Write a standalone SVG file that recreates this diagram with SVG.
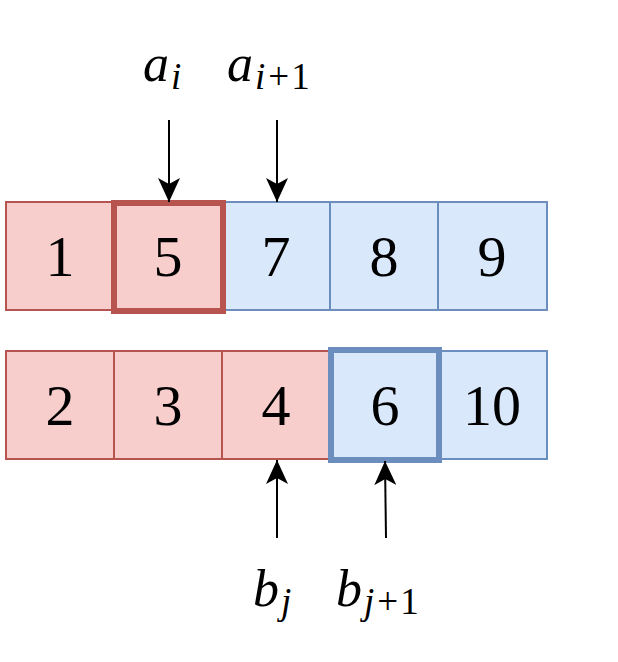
<svg xmlns="http://www.w3.org/2000/svg" width="618" height="662" viewBox="0 0 618 662">
<style>
.r{fill:#f8cecc;stroke:#b85450;stroke-width:2}
.b{fill:#dae8fc;stroke:#6c8ebf;stroke-width:2}
.rb{fill:#f8cecc;stroke:#b85450;stroke-width:6}
.bb{fill:#dae8fc;stroke:#6c8ebf;stroke-width:6}
.n{font-family:"Liberation Serif","DejaVu Serif",serif;font-size:58px;text-anchor:middle;fill:#000}
.m{font-family:"Liberation Serif","DejaVu Serif",serif;font-size:52px;font-style:italic;fill:#000}
.s{font-size:37px}
.u{font-style:normal}
.c{stroke:#000;stroke-width:2;fill:none}
</style>
<defs>
<marker id="ah" viewBox="0 0 24 22" refX="24" refY="11" markerWidth="24" markerHeight="22" markerUnits="userSpaceOnUse" orient="auto">
<path d="M0,0 L24,11 L0,22 L6,11 Z" fill="#000"/>
</marker>
</defs>
<rect width="618" height="662" fill="#fff"/>
<g id="a1"><rect class="r" x="6" y="202" width="108" height="108"/><text class="n" x="60" y="276">1</text></g>
<g id="a3"><rect class="b" x="222" y="202" width="108" height="108"/><text class="n" x="276" y="276">7</text></g>
<g id="a4"><rect class="b" x="330" y="202" width="108" height="108"/><text class="n" x="384" y="276">8</text></g>
<g id="a5"><rect class="b" x="438" y="202" width="109" height="108"/><text class="n" x="492" y="276">9</text></g>
<g id="a2"><rect class="rb" x="114" y="203" width="109" height="108"/><text class="n" x="168" y="276">5</text></g>
<g id="b1"><rect class="r" x="6" y="351" width="108" height="108"/><text class="n" x="60" y="425">2</text></g>
<g id="b2"><rect class="r" x="114" y="351" width="108" height="108"/><text class="n" x="168" y="425">3</text></g>
<g id="b3"><rect class="r" x="222" y="351" width="108" height="108"/><text class="n" x="276" y="425">4</text></g>
<g id="b5"><rect class="b" x="438" y="351" width="109" height="108"/><text class="n" x="492" y="425">10</text></g>
<g id="b4"><rect class="bb" x="331" y="350" width="108" height="110"/><text class="n" x="385" y="425">6</text></g>
<g id="labels">
<text class="m" x="143" y="81">a<tspan class="s" dx="2" dy="8">i</tspan></text>
<text class="m" x="227" y="81">a<tspan class="s" dx="2" dy="8">i<tspan class="u" dx="3">+</tspan><tspan class="u" dx="2">1</tspan></tspan></text>
<text class="m" x="253" y="606">b<tspan class="s" dx="2" dy="8">j</tspan></text>
<text class="m" x="336" y="606">b<tspan class="s" dx="2" dy="8">j<tspan class="u" dx="3">+</tspan><tspan class="u" dx="2">1</tspan></tspan></text>
</g>
<g id="connectors">
<line class="c" x1="169" y1="120" x2="169" y2="202" marker-end="url(#ah)"/>
<line class="c" x1="277" y1="120" x2="277" y2="202" marker-end="url(#ah)"/>
<line class="c" x1="277" y1="538" x2="277" y2="460" marker-end="url(#ah)"/>
<line class="c" x1="386" y1="538" x2="385" y2="461" marker-end="url(#ah)"/>
</g>
</svg>
